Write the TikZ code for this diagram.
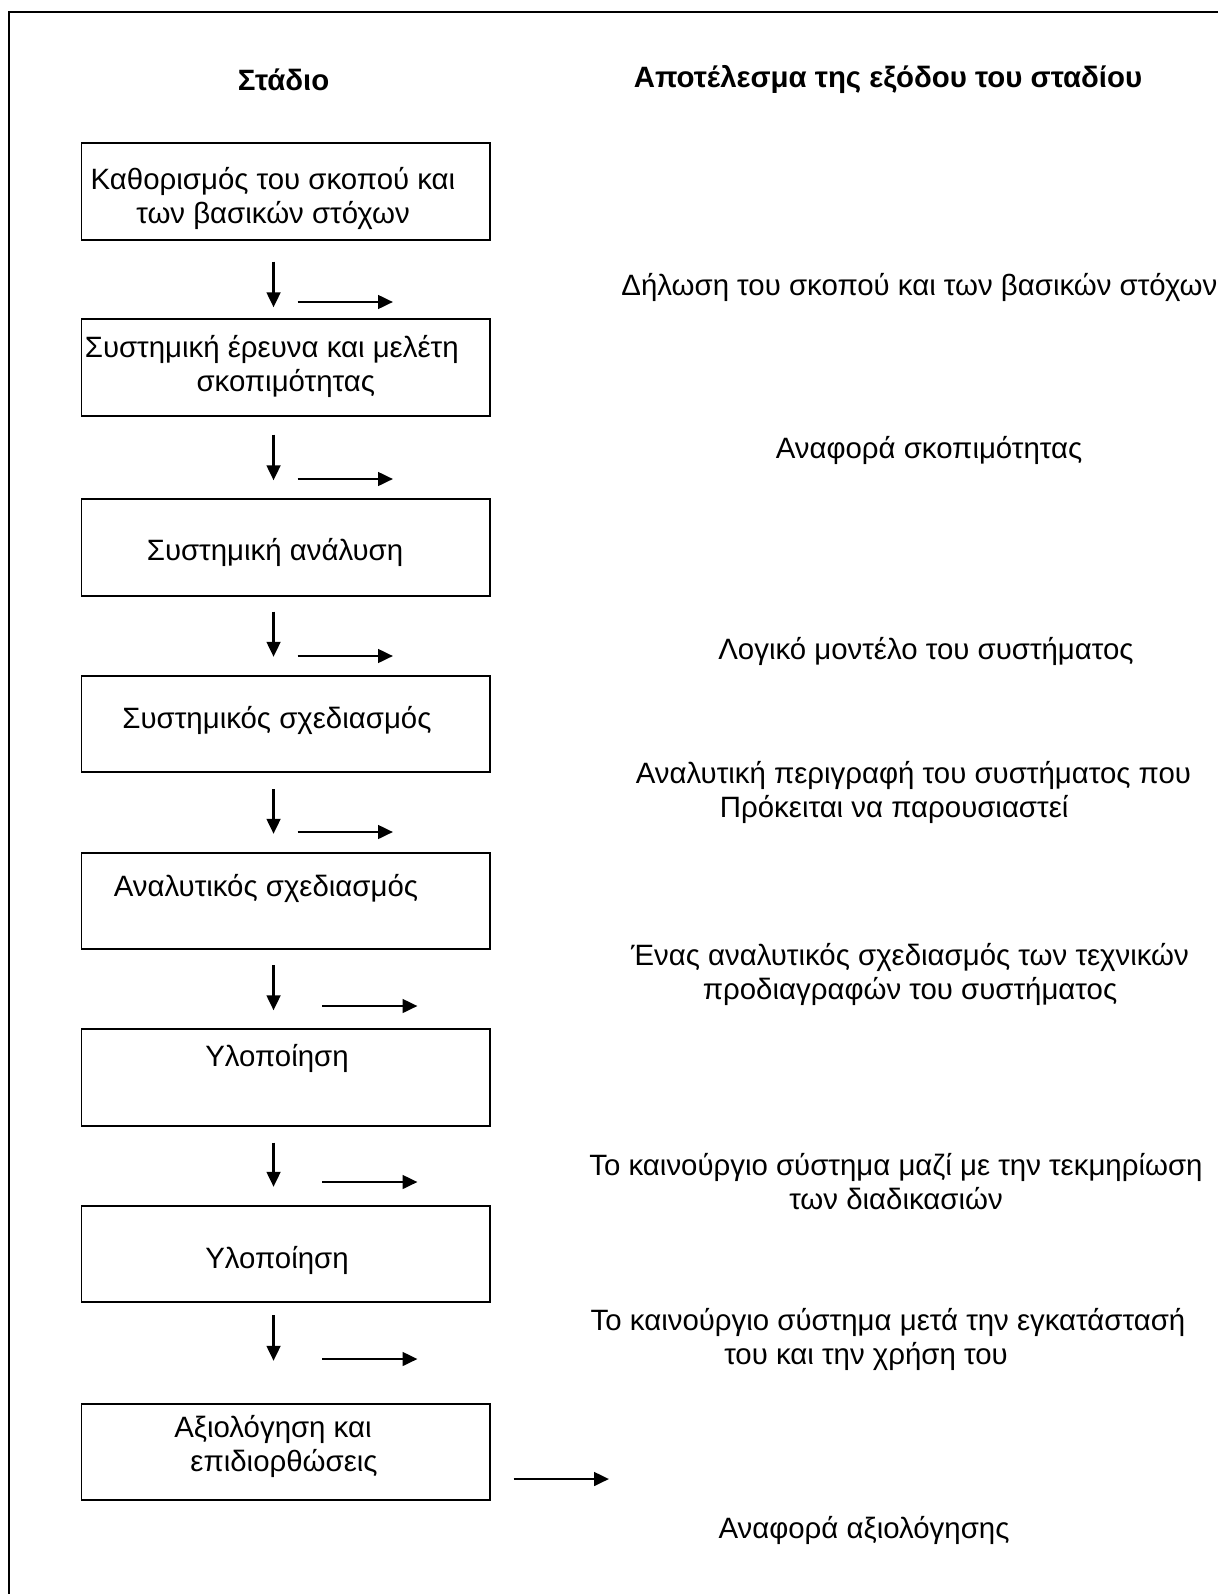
\documentclass[tikz,border=0pt]{standalone}
\usepackage{fontspec}
\setmainfont{Liberation Sans}
\usetikzlibrary{arrows.meta}

\begin{document}
\begin{tikzpicture}[
  x=0.5pt, y=-0.5pt,
  font=\fontsize{14.7}{16.8}\selectfont,
  stage/.style={draw, line width=0.9pt, minimum width=204.25pt, minimum height=48.25pt, inner sep=0pt},
  txt/.style={align=center, inner sep=0pt},
  hdr/.style={font=\fontsize{14.7}{16.8}\selectfont\bfseries, inner sep=0pt},
  arr/.style={line width=1.4pt, -{Triangle[length=7.5pt, width=6.8pt]}},
  frame/.style={line width=1pt}
]
\useasboundingbox (0,0) rectangle (1218,1594);
\draw [frame] (1218,11.7) -- (9.3,11.7) -- (9.3,1594);

% column titles
\node [hdr] (h1) at (283.6,80) {Στάδιο};
\node [hdr] (h2) at (888,80) {Αποτέλεσμα της εξόδου του σταδίου};

% stages
\node [stage] (s1) at (285.75,191.5) {};
\node [stage] (s2) at (285.75,367.5) {};
\node [stage] (s3) at (285.75,547.5) {};
\node [stage] (s4) at (285.75,724) {};
\node [stage] (s5) at (285.75,901) {};
\node [stage] (s6) at (285.75,1077.5) {};
\node [stage] (s7) at (285.75,1254) {};
\node [stage] (s8) at (285.75,1452) {};

\node [txt] (t1) at ([shift={(-12.75,7)}]s1.center) {Καθορισμός του σκοπού και\\των βασικών στόχων};
\node [txt] (t2) at ([shift={(0,-1)}]s2.center) {Συστημική έρευνα και μελέτη\hspace*{14pt}\\σκοπιμότητας};
\node [txt] (t3) at ([shift={(-10.75,4.5)}]s3.center) {Συστημική ανάλυση};
\node [txt] (t4) at ([shift={(-8.75,-4)}]s4.center) {Συστημικός σχεδιασμός};
\node [txt] (t5) at ([shift={(-19.75,-13)}]s5.center) {Αναλυτικός σχεδιασμός};
\node [txt] (t6) at ([shift={(-8.75,-19.5)}]s6.center) {Υλοποίηση};
\node [txt] (t7) at ([shift={(-8.75,6)}]s7.center) {Υλοποίηση};
\node [txt] (t8) at ([shift={(-12.75,-5.5)}]s8.center) {Αξιολόγηση και\\\hspace*{11pt}επιδιορθώσεις};

% outputs
\node [txt, anchor=west] (o1) at (621,287) {Δήλωση του σκοπού και των βασικών στόχων};
\node [txt] (o2) at (929,450) {Αναφορά σκοπιμότητας};
\node [txt] (o3) at (926,651) {Λογικό μοντέλο του συστήματος};
\node [txt, anchor=west, align=left] (o4) at (635.5,792.5) {Αναλυτική περιγραφή του συστήματος που\\\hspace*{42pt}Πρόκειται να παρουσιαστεί};
\node [txt] (o5) at (910,974.5) {Ένας αναλυτικός σχεδιασμός των τεχνικών\\προδιαγραφών του συστήματος};
\node [txt] (o6) at (896,1181.5) {Το καινούργιο σύστημα μαζί με την τεκμηρίωση\\των διαδικασιών};
\node [txt] (o7) at (888,1339.5) {Το καινούργιο σύστημα μετά την εγκατάστασή\\του και την χρήση του\hspace*{22pt}};
\node [txt] (o8) at (864,1530) {Αναφορά αξιολόγησης};

% arrows between the stages
\draw [arr] ([xshift=-6.1pt,yshift=-10.5pt]s1.south) -- ([xshift=-6.1pt,yshift=5.5pt]s2.north);
\draw [arr] ([xshift=-6.1pt,yshift=-9pt]s2.south) -- ([xshift=-6.1pt,yshift=9pt]s3.north);
\draw [arr] ([xshift=-6.1pt,yshift=-7.5pt]s3.south) -- ([xshift=-6.1pt,yshift=9pt]s4.north);
\draw [arr] ([xshift=-6.1pt,yshift=-8pt]s4.south) -- ([xshift=-6.1pt,yshift=9pt]s5.north);
\draw [arr] ([xshift=-6.1pt,yshift=-7.5pt]s5.south) -- ([xshift=-6.1pt,yshift=9pt]s6.north);
\draw [arr] ([xshift=-6.1pt,yshift=-8pt]s6.south) -- ([xshift=-6.1pt,yshift=9pt]s7.north);
\draw [arr] ([xshift=-6.1pt,yshift=-6pt]s7.south) -- ([xshift=-6.1pt,yshift=21pt]s8.north);

% output arrows
\coordinate (r1) at (297.5,302);
\coordinate (r2) at (297.5,479);
\coordinate (r3) at (297.5,656);
\coordinate (r4) at (297.5,832);
\coordinate (r5) at (322,1006);
\coordinate (r6) at (322,1182);
\coordinate (r7) at (322,1359);
\coordinate (r8) at (513.5,1479);
\draw [arr] (r1) -- ++(95.5,0);
\draw [arr] (r2) -- ++(95.5,0);
\draw [arr] (r3) -- ++(95.5,0);
\draw [arr] (r4) -- ++(95.5,0);
\draw [arr] (r5) -- ++(95.5,0);
\draw [arr] (r6) -- ++(95.5,0);
\draw [arr] (r7) -- ++(95.5,0);
\draw [arr] (r8) -- ++(95.5,0);
\end{tikzpicture}
\end{document}
